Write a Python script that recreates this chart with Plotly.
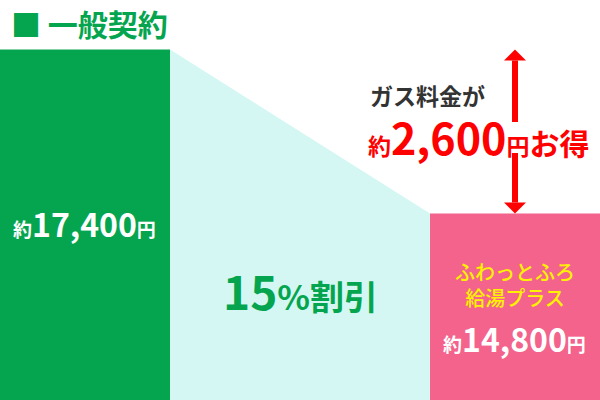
import plotly.graph_objects as go

# data
plans = ["一般契約", "ふわっとふろ給湯プラス"]
costs = [17400, 14800]
discount_pct = 15

GREEN = "#05a54f"
PINK = "#f3638b"
CYAN = "#d4f7f3"
RED = "#ff0000"
YELLOW = "#fff200"
FONT = "Noto Sans CJK JP"

W, H = 600, 400
bar_w = 170
bar_x = [bar_w / 2, W - bar_w / 2]
y_lo, y_hi = 11843, 18185
px_per_yen = H / (y_hi - y_lo)

saving = costs[0] - costs[1]


def px(x):
    return x / W


def py(y):
    return 1 - y / H


def yen_at(pix):
    return y_lo + (H - pix) / px_per_yen


fig = go.Figure()

# light slope between the two bars
fig.add_trace(go.Scatter(
    x=[bar_x[0] + bar_w / 2, bar_x[1] - bar_w / 2], y=costs,
    mode="none", fill="tozeroy", fillcolor=CYAN, hoverinfo="skip"))

fig.add_trace(go.Bar(
    x=bar_x, y=costs, width=bar_w, marker=dict(color=[GREEN, PINK], line_width=0),
    text=plans, textposition="none", hoverinfo="skip"))

# red double arrow = saving, shaft broken where the 円 sits
ax = 515
head_w, head_h = 11, 11 / px_per_yen
gap_top, gap_bot = yen_at(122), yen_at(153)
for y0, y1 in [(gap_top, costs[0] - head_h), (costs[1] + head_h, gap_bot)]:
    fig.add_shape(type="line", x0=ax, x1=ax, y0=y0, y1=y1,
                  line=dict(color=RED, width=6))
fig.add_shape(type="path", fillcolor=RED, line_width=0,
              path=f"M{ax - head_w},{costs[0] - head_h} L{ax},{costs[0]} L{ax + head_w},{costs[0] - head_h} Z")
fig.add_shape(type="path", fillcolor=RED, line_width=0,
              path=f"M{ax - head_w},{costs[1] + head_h} L{ax},{costs[1]} L{ax + head_w},{costs[1] + head_h} Z")


def yen(v, small):
    return (f"<b><span style='font-size:{small}px'>約</span>{v:,}"
            f"<span style='font-size:{small}px'>円</span></b>")


ann = [
    dict(text=f"<b>■ {plans[0]}</b>", x=px(9), y=py(23), xanchor="left",
         font=dict(size=30, color=GREEN)),
    dict(text="<b>ガス料金が</b>", x=px(368), y=py(95), xanchor="left",
         font=dict(size=23, color="#333333")),
    dict(text=f"<b><span style='font-size:23px'>約</span>{saving:,}"
              f"<span style='font-size:23px'>円</span><span style='font-size:30px'>お得</span></b>",
         x=px(366), y=py(136), xanchor="left",
         font=dict(size=43, color=RED)),
    dict(text=yen(costs[0], 19), x=px(84), y=py(223),
         font=dict(size=32, color="white")),
    dict(text=f"<b>{discount_pct}<span style='font-size:34px'>%割引</span></b>",
         x=px(300), y=py(290), font=dict(size=46, color=GREEN)),
    dict(text="ふわっとふろ<br>給湯プラス", x=px(515), y=py(284),
         font=dict(size=20, color=YELLOW, weight=500)),
    dict(text=yen(costs[1], 19), x=px(514), y=py(338),
         font=dict(size=32, color="white")),
]
for a in ann:
    a.update(xref="paper", yref="paper", showarrow=False, yanchor="middle")
    a.setdefault("xanchor", "center")
    fig.add_annotation(**a)

fig.update_layout(
    width=W, height=H, margin=dict(l=0, r=0, t=0, b=0),
    paper_bgcolor="white", plot_bgcolor="white",
    font=dict(family=FONT), showlegend=False,
    xaxis=dict(range=[0, W], visible=False, fixedrange=True),
    yaxis=dict(range=[y_lo, y_hi], visible=False, fixedrange=True),
)

fig.write_html("out.html", config={"displayModeBar": False},
               post_script="document.body.style.margin='0';")
